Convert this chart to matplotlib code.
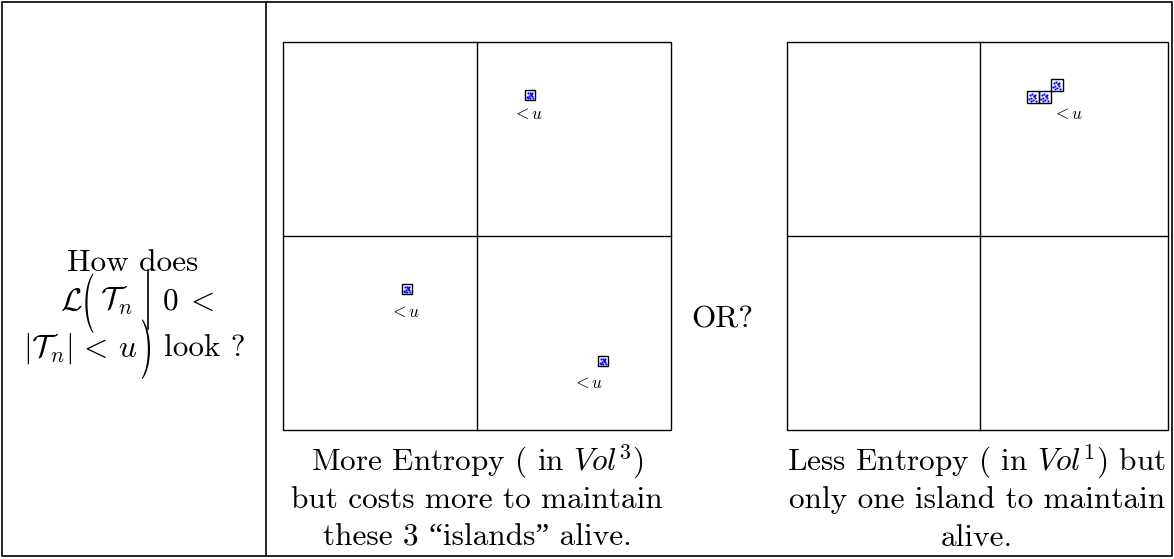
import matplotlib
matplotlib.use("Agg")
import matplotlib.pyplot as plt
from matplotlib.patches import Rectangle, PathPatch
from matplotlib.textpath import TextPath
from matplotlib.font_manager import FontProperties
from matplotlib.transforms import Affine2D

plt.rcParams['mathtext.fontset'] = 'cm'
plt.rcParams['font.family'] = ['cmr10', 'Liberation Serif']
plt.rcParams['axes.unicode_minus'] = False

# textes
caption_left = ["More Entropy ( in $Vol^3$)",
                "but costs more to maintain",
                "these 3 \u201cislands\u201d alive."]
caption_right = ["Less Entropy ( in $Vol^1$) but",
                 "only one island to maintain",
                 "alive."]

# petites iles (x, y, cote) en pixels
iles_gauche = [(525, 90, 10), (402, 284, 10), (598, 356, 10)]
iles_droite = [(1027, 91, 12), (1039, 91, 12), (1051, 79, 12)]
etiquettes_gauche = [(528, 114), (405, 312), (588, 383)]
etiquettes_droite = [(1068, 114)]
# points bleus a l'interieur des iles (fraction du cote)
points_x = [0.25, 0.45, 0.6, 0.35, 0.7, 0.5, 0.3, 0.65, 0.2, 0.55, 0.75]
points_y = [0.3, 0.25, 0.45, 0.55, 0.6, 0.75, 0.8, 0.3, 0.65, 0.4, 0.8]

FS = 22.5
fig = plt.figure(figsize=(11.74, 5.59), dpi=100)
ax = fig.add_axes([0, 0, 1, 1])
ax.set_xlim(0, 1174)
ax.set_ylim(559, 0)
ax.axis('off')

# cadre du tableau
ax.add_patch(Rectangle((2, 2), 1170, 554, fill=False, lw=1.2, ec='black'))
ax.plot([266, 266], [2, 556], color='black', lw=1.2)

# deux panneaux
for (x0, x1, xm) in [(283, 671, 477), (787, 1168, 980)]:
    ax.add_patch(Rectangle((x0, 42), x1 - x0, 388, fill=False, lw=1, ec='black'))
    ax.plot([xm, xm], [42, 430], color='black', lw=1)
    ax.plot([x0, x1], [236, 236], color='black', lw=1)

def ile(x, y, s):
    ax.add_patch(Rectangle((x, y), s, s, fill=False, lw=1.0, ec='black'))
    ax.scatter([x + s * px for px in points_x], [y + s * py for py in points_y],
               s=2.5, color='blue', lw=0)

for (x, y, s) in iles_gauche + iles_droite:
    ile(x, y, s)
for (x, y) in etiquettes_gauche + etiquettes_droite:
    ax.text(x, y, r"$<u$", fontsize=12.5, ha='center', va='center')

# grand delimiteur (etire verticalement)
cmr = FontProperties(family='cmr10')
def delim(ch, x, y_base, sx, sy):
    tp = TextPath((0, 0), ch, size=FS * 100 / 72, prop=cmr)
    tr = Affine2D().scale(sx, -sy).translate(x, y_base)
    ax.add_patch(PathPatch(tr.transform_path(tp), fc='black', lw=0))

# question a gauche
b1, b2, b3 = 271, 310, 356
ax.text(133, b1, "How does", fontsize=FS, ha='center', va='baseline')
ax.text(60, b2, r"$\mathcal{L}$", fontsize=FS, ha='left', va='baseline')
delim("(", 82, b2 + 8, 1.1, 1.9)
ax.text(100, b2, r"$\mathcal{T}_n$", fontsize=FS, ha='left', va='baseline')
ax.plot([148, 148], [b2 - 40, b2 + 19], color='black', lw=1.2)
ax.text(162, b2, r"$0\;<$", fontsize=FS, ha='left', va='baseline')
ax.text(137, b3, r"$|\mathcal{T}_n|\,<\,u$", fontsize=FS, ha='right', va='baseline')
delim(")", 140, b3 + 8, 1.1, 1.9)
ax.text(164, b3, "look ?", fontsize=FS, ha='left', va='baseline')

ax.text(722, 327, "OR?", fontsize=FS, ha='center', va='baseline')

for txt, y in zip(caption_left, [470, 508, 546]):
    ax.text(477, y, txt, fontsize=FS, ha='center', va='baseline')
for txt, y in zip(caption_right, [470, 508, 546]):
    ax.text(977, y, txt, fontsize=FS, ha='center', va='baseline')

fig.savefig("out.png", dpi=100)
